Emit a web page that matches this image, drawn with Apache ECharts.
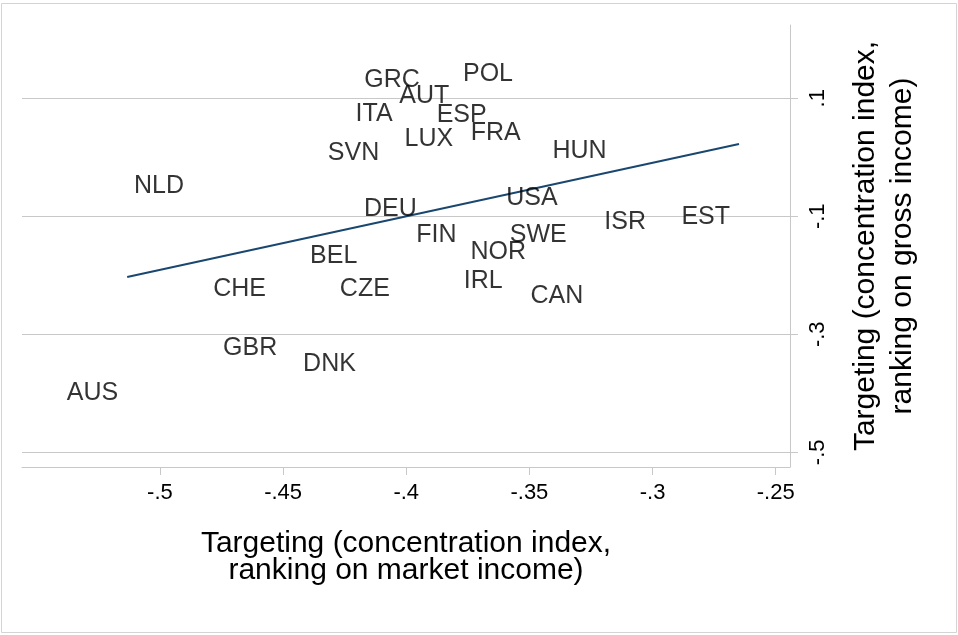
<!DOCTYPE html>
<html>
<head>
<meta charset="utf-8">
<script src="https://cdn.jsdelivr.net/npm/echarts@6/dist/echarts.min.js"></script>
<style>
html,body{margin:0;padding:0;background:#fff;}
#chart{width:958px;height:635px;}
</style>
</head>
<body>
<div id="chart"></div>
<script>
// Country codes and their values (x: market-income targeting, y: gross-income targeting)
var countries = ["GRC","POL","AUT","ITA","ESP","FRA","LUX","SVN","HUN","NLD","USA","DEU","ISR","EST","FIN","SWE","NOR","BEL","IRL","CHE","CZE","CAN","GBR","DNK","AUS"];
var xValues = [-0.3908,-0.3530,-0.3789,-0.4019,-0.3637,-0.3499,-0.3773,-0.4073,-0.3150,-0.4866,-0.3349,-0.3921,-0.2990,-0.2649,-0.3759,-0.3312,-0.3477,-0.4162,-0.3572,-0.4533,-0.4030,-0.3245,-0.4487,-0.4168,-0.5133];
var yValues = [0.1339,0.1446,0.1073,0.0768,0.0751,0.0446,0.0344,0.0107,0.0141,-0.0453,-0.0656,-0.0851,-0.1071,-0.0986,-0.1283,-0.1283,-0.1571,-0.1639,-0.2063,-0.2193,-0.2198,-0.2317,-0.3198,-0.3469,-0.3961];
// Fitted line endpoints
var fitX = [-0.5133,-0.2649];
var fitY = [-0.2029,0.0225];
// Tick labels
var xTicks = [-0.5,-0.45,-0.4,-0.35,-0.3,-0.25];
var yTicks = [-0.5,-0.3,-0.1,0.1];
var xTitle = "Targeting (concentration index,\nranking on market income)";
var yTitle = "Targeting (concentration index,\nranking on gross income)";

var FONT = "'Liberation Sans', Arial, sans-serif";
function fmt(v){ return String(v).replace("0.", "."); }

var pts = countries.map(function(c,i){ return [xValues[i], yValues[i], c]; });
var line = fitX.map(function(x,i){ return [x, fitY[i]]; });

var chart = echarts.init(document.getElementById('chart'), null, {renderer:'canvas'});
chart.setOption({
  animation:false,
  backgroundColor:'#ffffff',
  grid:{left:22, right:168, top:25, bottom:168, containLabel:false},
  graphic:[{type:'rect', shape:{x:1.5, y:3.5, width:955, height:629}, style:{fill:'none', stroke:'#d4d4d4', lineWidth:1}, silent:true}],
  xAxis:{
    type:'value', min:-0.556, max:-0.2442, position:'bottom',
    axisLine:{show:true, onZero:false, lineStyle:{color:'#c8c8c8', width:1}},
    axisTick:{show:true, customValues:xTicks, length:8, lineStyle:{color:'#c8c8c8'}},
    axisLabel:{customValues:xTicks, formatter:fmt, fontSize:22, color:'#000', fontFamily:FONT, margin:15},
    splitLine:{show:false},
    name:xTitle, nameLocation:'middle', nameGap:63,
    nameTextStyle:{fontSize:30, color:'#000', fontFamily:FONT, lineHeight:27}
  },
  yAxis:{
    type:'value', min:-0.5249, max:0.2241, position:'right',
    axisLine:{show:true, onZero:false, lineStyle:{color:'#c8c8c8', width:1}},
    axisTick:{show:true, customValues:yTicks, length:8, lineStyle:{color:'#c8c8c8'}},
    axisLabel:{customValues:yTicks, formatter:fmt, rotate:90, fontSize:22, color:'#000', fontFamily:FONT, margin:17},
    splitLine:{show:true, lineStyle:{color:'#c8c8c8', width:1}},
    name:yTitle, nameLocation:'middle', nameRotate:90, nameGap:57,
    nameTextStyle:{fontSize:30, color:'#000', fontFamily:FONT, lineHeight:37}
  },
  series:[
    {
      type:'scatter', data:pts, symbolSize:0, silent:true,
      label:{show:true, position:'left', distance:9, offset:[0,2], formatter:function(p){return p.data[2];},
             fontSize:25, color:'#000', fontFamily:FONT},
      z:3
    },
    {
      type:'line', data:line, showSymbol:false, symbol:'none', silent:true,
      lineStyle:{color:'#1a476f', width:2}, z:2
    }
  ]
});
</script>
</body>
</html>
